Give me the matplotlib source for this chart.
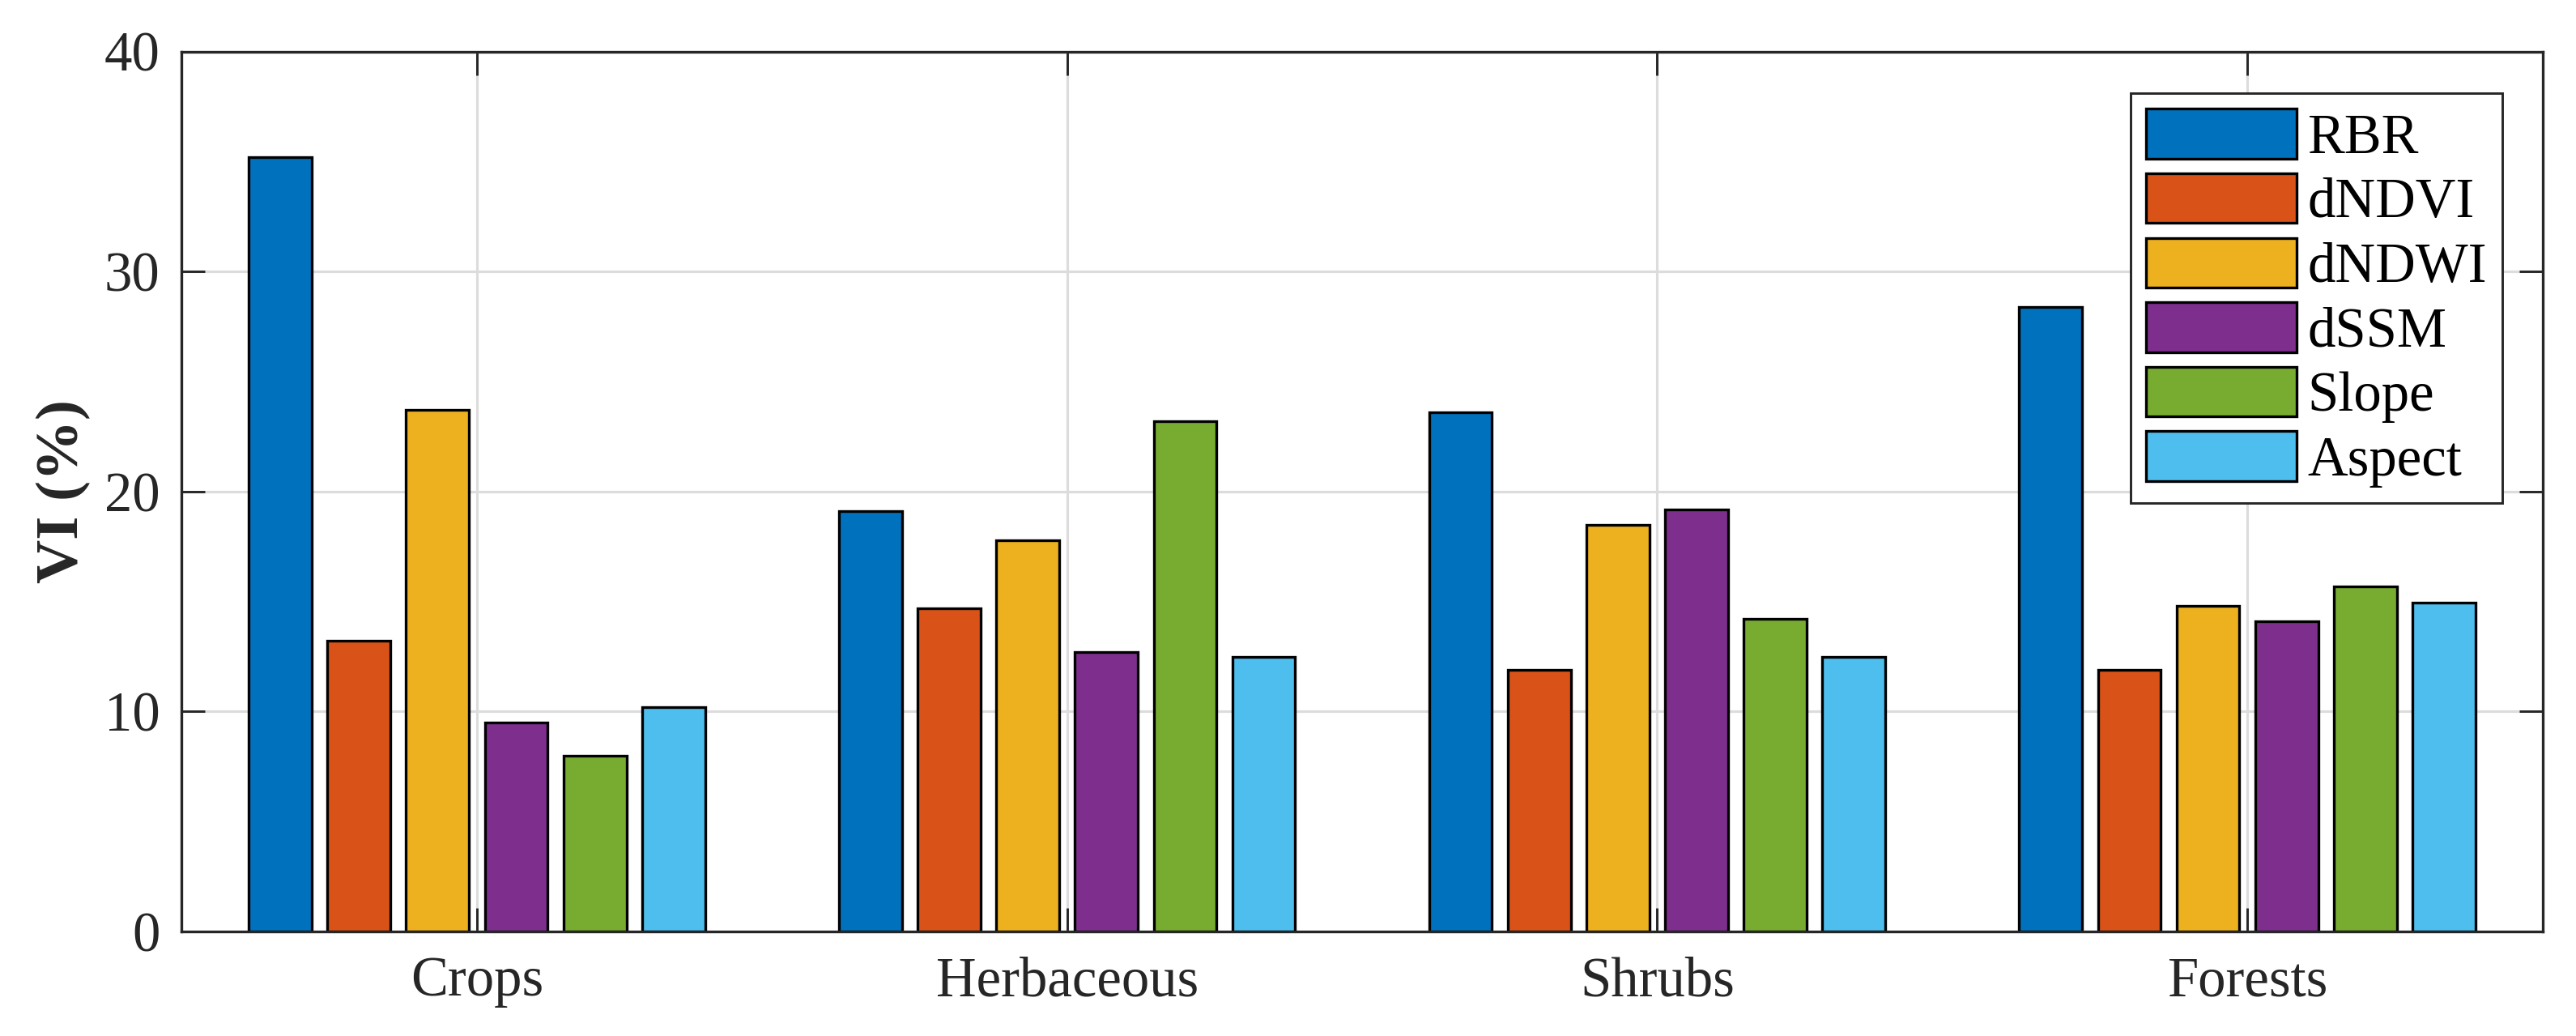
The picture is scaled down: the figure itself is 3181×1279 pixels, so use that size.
import matplotlib
matplotlib.use("Agg")
import matplotlib.pyplot as plt
import numpy as np

categories = ["Crops", "Herbaceous", "Shrubs", "Forests"]
series_names = ["RBR", "dNDVI", "dNDWI", "dSSM", "Slope", "Aspect"]
RBR = [35.2, 19.1, 23.6, 28.4]
dNDVI = [13.2, 14.7, 11.9, 11.9]
dNDWI = [23.7, 17.8, 18.5, 14.8]
dSSM = [9.5, 12.7, 19.2, 14.1]
Slope = [8.0, 23.2, 14.2, 15.7]
Aspect = [10.2, 12.5, 12.5, 14.95]
series_values = [RBR, dNDVI, dNDWI, dSSM, Slope, Aspect]
colors = ["#0072BD", "#D95319", "#EDB120", "#7E2F8E", "#77AC30", "#4DBEEE"]
yticks = [0, 10, 20, 30, 40]

plt.rcParams['font.family'] = ['Liberation Serif', 'DejaVu Serif']
dark = "#262626"

W, H = 3181, 1279
dpi = 300
fig = plt.figure(figsize=(W / dpi, H / dpi), dpi=dpi)
ax = fig.add_axes([224.5 / W, 1 - 1150 / H, (3139.6 - 224.5) / W, (1150 - 63.6) / H])

x = np.arange(1, len(categories) + 1)
n = len(series_names)
pitch = 0.8 / n
width = pitch * 0.8
for i, (name, vals, c) in enumerate(zip(series_names, series_values, colors)):
    ax.bar(x + (i - (n - 1) / 2) * pitch, vals, width=width, color=c,
           edgecolor="black", linewidth=0.8, label=name, zorder=3)

ax.set_xlim(0.5, 4.5)
ax.set_ylim(0, 40)
ax.set_xticks(x)
ax.set_xticklabels(categories)
ax.set_yticks(yticks)
ax.grid(True, color="#dcdcdc", linewidth=0.75, zorder=0)
ax.set_axisbelow(True)
for s in ax.spines.values():
    s.set_color(dark)
    s.set_linewidth(0.8)
    s.set_zorder(4)
ax.tick_params(axis='both', direction='in', length=7, width=0.7, color=dark,
               labelcolor=dark, labelsize=16.5, top=True, right=True)
ax.tick_params(axis='y', pad=6.5)
ax.tick_params(axis='x', pad=7.4)

ax.set_ylabel("VI (%)", fontsize=18, fontweight='bold', color=dark)
ax.yaxis.set_label_coords((112 - 224.5) / (3139.6 - 224.5), 0.5)

leg = ax.legend(loc='upper right', bbox_to_anchor=(3090 / W, 1 - 115 / H),
                bbox_transform=fig.transFigure, borderaxespad=0,
                fontsize=16.5, handlelength=2.7, handleheight=1.0,
                handletextpad=0.2, borderpad=0.28, labelspacing=0.15,
                fancybox=False, framealpha=1, edgecolor=dark)
leg.get_frame().set_linewidth(0.7)
leg.set_zorder(5)
for t in leg.get_texts():
    t.set_color("black")

fig.savefig("out.png", dpi=dpi)
